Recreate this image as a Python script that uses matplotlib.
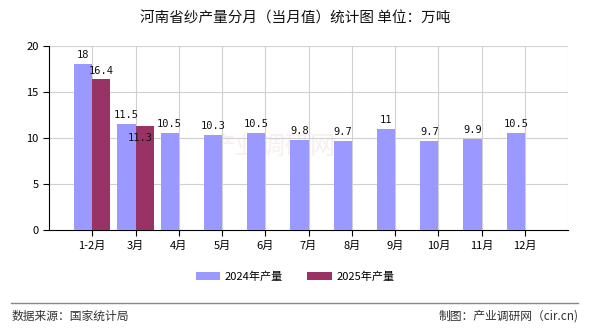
import matplotlib
matplotlib.use("Agg")
import matplotlib.pyplot as plt
import numpy as np

plt.rcParams['font.family'] = ['Noto Sans CJK SC', 'DejaVu Sans']

months = ["1-2月", "3月", "4月", "5月", "6月", "7月", "8月", "9月", "10月", "11月", "12月"]
output_2024 = [18, 11.5, 10.5, 10.3, 10.5, 9.8, 9.7, 11, 9.7, 9.9, 10.5]
output_2025 = [16.4, 11.3]
series_names = ["2024年产量", "2025年产量"]
yticks = [0, 5, 10, 15, 20]

color_2024 = "#9999FF"
color_2025 = "#993366"

fig = plt.figure(figsize=(5.9, 3.3), dpi=100)
ax = fig.add_axes([0.083, 0.303, 0.88, 0.558])

# faint watermark behind the plot contents
ax.text(0.43, 0.45, "产业调研网", transform=ax.transAxes, fontsize=18,
        color="#fbeeee", ha="center", va="center", zorder=0)

x = np.arange(len(months))
w = 0.42
b1 = ax.bar(x - w / 2, output_2024, w, color=color_2024, label=series_names[0], zorder=3)
x25 = np.arange(len(output_2025))
b2 = ax.bar(x25 + w / 2, output_2025, w, color=color_2025, label=series_names[1], zorder=3)

label_kw = dict(fontsize=7.5, family=['DejaVu Sans Mono'], color="#111111",
                ha="center", zorder=5)
for xi, v in zip(x - w / 2, output_2024):
    ax.annotate(f"{v:g}", (xi, v), xytext=(0, 3), textcoords="offset points",
                va="bottom", **label_kw)
# second-series labels; the March one is nudged down to clear its neighbour
offsets_2025 = [(0, 2), (-3, -12)]
for xi, v, off in zip(x25 + w / 2, output_2025, offsets_2025):
    ax.annotate(f"{v:g}", (xi, v), xytext=off, textcoords="offset points",
                va="bottom", **label_kw)

ax.set_xlim(-1, len(months))
ax.set_ylim(0, 20)
ax.set_yticks(yticks)
ax.set_xticks(x)
ax.set_xticklabels(months, fontsize=8)
ax.tick_params(axis="y", labelsize=8, length=4, direction="out", width=0.8)
ax.tick_params(axis="x", length=4, direction="out", width=0.8)

# grid: horizontal at y ticks, vertical at every category slot boundary
for yv in yticks[1:]:
    ax.axhline(yv, color="#d0d0d0", lw=0.8, zorder=1)
for xv in range(0, len(months) + 1):
    ax.axvline(xv, color="#d0d0d0", lw=0.8, zorder=1)

for s in ["top", "right"]:
    ax.spines[s].set_visible(False)
ax.spines["left"].set_color("black")
ax.spines["bottom"].set_color("black")

fig.text(0.5, 0.945, "河南省纱产量分月（当月值）统计图 单位：万吨", ha="center",
         va="center", fontsize=10.5, color="#111111")

fig.legend(handles=[b1, b2], labels=series_names, loc="center",
           bbox_to_anchor=(0.5, 0.162), ncol=2, frameon=False, fontsize=8,
           handlelength=2.2, handleheight=0.8, columnspacing=2.2, handletextpad=0.4)

fig.add_artist(plt.Line2D([0.018, 0.98], [0.082, 0.082], color="#888888", lw=1.0))
fig.text(0.02, 0.042, "数据来源：国家统计局", ha="left", va="center", fontsize=8.5,
         color="#333333")
fig.text(0.98, 0.042, "制图：产业调研网（cir.cn)", ha="right", va="center", fontsize=8.5,
         color="#333333")

fig.savefig("out.png", dpi=100)
